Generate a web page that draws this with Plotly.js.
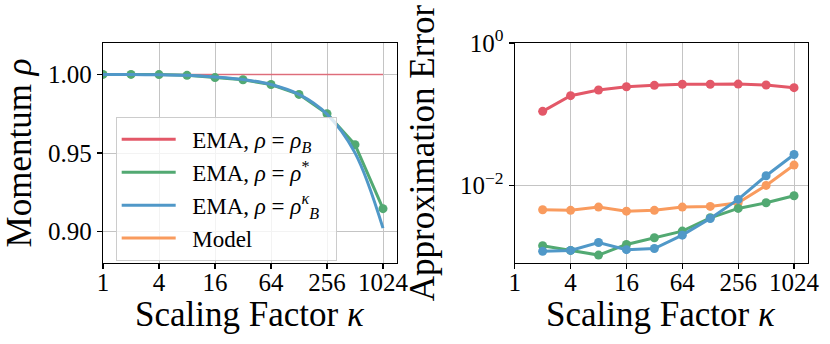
<!DOCTYPE html>
<html>
<head>
<meta charset="utf-8">
<script src="https://cdn.plot.ly/plotly-3.0.1.min.js"></script>
<style>
  html, body { margin: 0; padding: 0; background: #fff; }
  #plot { width: 830px; height: 344px; }
</style>
</head>
<body>
<div id="plot"></div>
<script>
// scaling factors
const kappaLeft = [1, 2, 4, 8, 16, 32, 64, 128, 256, 512, 1024];
const kappaRight = [2, 4, 8, 16, 32, 64, 128, 256, 512, 1024];

// left panel: momentum
const rhoB = [1.0, 1.0, 1.0, 1.0, 1.0, 1.0, 1.0, 1.0, 1.0, 1.0, 1.0];
const rhoStar = [1.0000, 1.0000, 0.9999, 0.9994, 0.9980, 0.9966, 0.9936, 0.9873, 0.9750, 0.9553, 0.9146];
const rhoBk = [1.0000, 0.9999, 0.9998, 0.9994, 0.9984, 0.9968, 0.9936, 0.9873, 0.9747, 0.9501, 0.9022];

// right panel: approximation error
const errRhoB = [0.1096, 0.182, 0.219, 0.243, 0.254, 0.263, 0.263, 0.265, 0.257, 0.236];
const errRhoStar = [0.00142, 0.00122, 0.00105, 0.00148, 0.00184, 0.00228, 0.00351, 0.00475, 0.0057, 0.00715];
const errRhoBk = [0.00119, 0.00122, 0.00158, 0.00125, 0.0013, 0.0020, 0.00343, 0.00636, 0.01365, 0.0272];
const errModel = [0.00455, 0.00446, 0.00496, 0.00435, 0.00446, 0.00496, 0.00507, 0.0057, 0.0100, 0.0193];

const xTicks = [1, 4, 16, 64, 256, 1024];
const leftYTicks = [0.90, 0.95, 1.00];
const leftYText = ['0.90', '0.95', '1.00'];
const rightYTicks = [1, 0.01];
const rightYText = ['10<sup>0</sup>', '10<sup>\u22122</sup>'];

const SP = '\u2002';
const names = [
    SP + 'EMA, <i>\u03c1</i> = <i>\u03c1</i><sub><i>B</i></sub>' + SP,
    SP + 'EMA, <i>\u03c1</i> = <i>\u03c1</i><sup>*</sup>' + SP,
    SP + 'EMA, <i>\u03c1</i> = <i>\u03c1</i><sup><i>\u03ba</i></sup><sub><i>B</i></sub>' + SP,
    SP + 'Model'
];

const red = '#e35868';
const green = '#52a972';
const blue = '#5098c8';
const orange = '#f99b5e';
const colors = [red, green, blue, orange];

const FONT = '"Liberation Serif", "Times New Roman", serif';

function legendTrace(i) {
    return {
        x: [null], y: [null], name: names[i], mode: 'lines',
        line: { color: colors[i], width: 3 },
        xaxis: 'x', yaxis: 'y', hoverinfo: 'skip'
    };
}

function draw() {
    const data = [
        { x: kappaLeft, y: rhoB, mode: 'lines', line: { color: red, width: 1.5 }, opacity: 0.8, showlegend: false },
        { x: kappaLeft, y: rhoStar, mode: 'lines+markers', line: { color: green, width: 3 }, marker: { color: green, size: 9 }, showlegend: false },
        { x: kappaLeft, y: rhoBk, mode: 'lines', line: { color: blue, width: 3, shape: 'spline' }, showlegend: false },

        { x: kappaRight, y: errRhoB, mode: 'lines+markers', line: { color: red, width: 3 }, marker: { color: red, size: 9 }, xaxis: 'x2', yaxis: 'y2', showlegend: false },
        { x: kappaRight, y: errModel, mode: 'lines+markers', line: { color: orange, width: 3 }, marker: { color: orange, size: 9 }, xaxis: 'x2', yaxis: 'y2', showlegend: false },
        { x: kappaRight, y: errRhoStar, mode: 'lines+markers', line: { color: green, width: 3 }, marker: { color: green, size: 9 }, xaxis: 'x2', yaxis: 'y2', showlegend: false },
        { x: kappaRight, y: errRhoBk, mode: 'lines+markers', line: { color: blue, width: 3 }, marker: { color: blue, size: 9 }, xaxis: 'x2', yaxis: 'y2', showlegend: false },

        legendTrace(0), legendTrace(1), legendTrace(2), legendTrace(3)
    ];

    const axisCommon = {
        showline: true, linecolor: '#000', linewidth: 1.2, mirror: true,
        ticks: 'outside', ticklen: 5, tickwidth: 1.2, tickcolor: '#000',
        showgrid: true, gridcolor: '#c4c4c4', gridwidth: 1,
        zeroline: false,
        tickfont: { family: FONT, size: 25, color: '#000' }
    };

    const titleFont = { family: FONT, size: 35, color: '#000' };
    const xTitleText = 'Scaling Factor <i>\u03ba</i>';

    const layout = {
        width: 830,
        height: 344,
        margin: { l: 103, r: 22, t: 43, b: 81 },
        paper_bgcolor: '#fff',
        plot_bgcolor: '#fff',
        font: { family: FONT, color: '#000' },
        showlegend: true,
        legend: {
            x: 0.018, y: 0.664, xanchor: 'left', yanchor: 'top',
            bgcolor: 'rgba(255,255,255,0.8)', bordercolor: '#cccccc', borderwidth: 1,
            font: { family: FONT, size: 23, color: '#000' },
            itemwidth: 54, tracegroupgap: 0
        },
        xaxis: Object.assign({}, axisCommon, {
            type: 'log', domain: [0, 0.417], range: [0, 3.1607],
            tickvals: xTicks, ticktext: xTicks.map(String), ticklabelstandoff: -8,
            anchor: 'y'
        }),
        yaxis: Object.assign({}, axisCommon, {
            range: [0.88, 1.02], tickvals: leftYTicks, ticktext: leftYText,
            title: { text: 'Momentum <i>\u03c1</i>', font: titleFont, standoff: 8 },
            anchor: 'x'
        }),
        xaxis2: Object.assign({}, axisCommon, {
            type: 'log', domain: [0.584, 1], range: [0, 3.1607],
            tickvals: xTicks, ticktext: xTicks.map(String), ticklabelstandoff: -8,
            anchor: 'y2'
        }),
        yaxis2: Object.assign({}, axisCommon, {
            type: 'log', range: [-3.09, 0], tickvals: rightYTicks, ticktext: rightYText,
            title: { text: 'Approximation Error', font: titleFont, standoff: 14 },
            anchor: 'x2'
        }),
        annotations: [
            { text: xTitleText, xref: 'paper', yref: 'paper', x: 0.2085, y: -0.235, xanchor: 'center', yanchor: 'middle', showarrow: false, font: titleFont },
            { text: xTitleText, xref: 'paper', yref: 'paper', x: 0.792, y: -0.235, xanchor: 'center', yanchor: 'middle', showarrow: false, font: titleFont }
        ]
    };

    Plotly.newPlot('plot', data, layout, { displayModeBar: false, staticPlot: true });
}

draw();
</script>
</body>
</html>
